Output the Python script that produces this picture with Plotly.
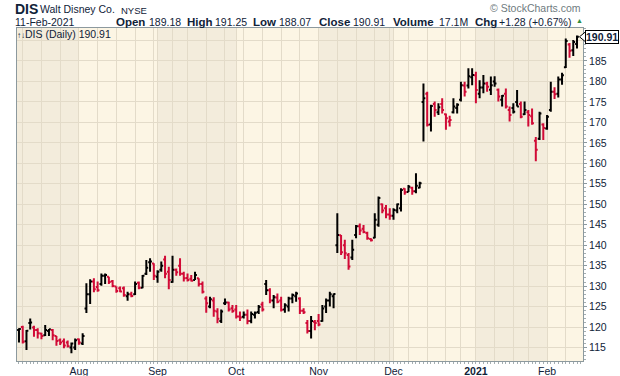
import pandas as pd
import plotly.graph_objects as go

# ---------------- data (DIS daily, 10-Jul-2020 .. 11-Feb-2021) ----------------
holidays = ["2020-09-07", "2020-11-26", "2020-12-25", "2021-01-01", "2021-01-18"]
dates = [d for d in pd.bdate_range("2020-07-10", "2021-02-11")
         if d.strftime("%Y-%m-%d") not in holidays]

opens = [119.3, 120.0, 116.5, 121.0, 119.9, 119.3, 118.4, 118.0, 119.0, 119.3,
         117.8, 116.8, 116.5, 116.2, 115.0, 115.0, 117.0, 116.0, 124.5, 128.0,
         131.1, 129.8, 130.5, 132.5, 132.3, 131.2, 129.9, 129.5, 129.5, 127.5,
         128.0, 128.0, 130.8, 129.6, 133.0, 135.8, 135.5, 132.3, 134.0, 136.5,
         133.5, 131.0, 134.0, 135.0, 133.0, 132.0, 131.8, 131.5, 131.9, 130.5,
         127.0, 125.0, 126.5, 123.8, 121.5, 125.8, 126.0, 124.6, 124.3, 122.6,
         122.5, 123.0, 121.5, 123.0, 123.7, 125.5, 130.5, 129.0, 126.5, 127.2,
         126.5, 124.3, 125.0, 127.0, 127.5, 127.0, 124.0, 121.0, 119.0, 121.3,
         121.5, 121.5, 125.0, 126.5, 127.5, 140.0, 142.4, 140.0, 137.6, 137.0,
         142.5, 144.6, 144.0, 143.0, 141.5, 141.8, 145.0, 150.0, 149.0, 147.5,
         147.2, 148.5, 149.0, 153.8, 153.0, 154.0, 153.2, 154.0, 175.0, 177.0,
         169.5, 174.5, 172.5, 174.5, 172.0, 170.2, 172.5, 173.5, 175.5, 179.0,
         179.0, 181.0, 181.5, 177.0, 178.5, 179.5, 178.0, 180.0, 178.0, 175.5,
         177.0, 173.0, 173.5, 175.0, 174.5, 172.0, 172.5, 171.5, 165.5, 166.0,
         169.5, 168.5, 173.0, 177.5, 177.0, 180.5, 183.5, 189.0, 187.6, 189.18]
highs = [119.7, 120.3, 119.3, 122.1, 120.3, 119.7, 118.6, 120.5, 119.5, 119.5,
         117.8, 117.2, 117.2, 116.7, 116.2, 117.2, 117.2, 118.5, 130.7, 131.7,
         131.9, 131.1, 133.1, 133.1, 132.3, 131.5, 129.9, 129.9, 129.9, 128.6,
         128.6, 131.1, 131.1, 132.7, 136.4, 136.8, 135.6, 133.9, 136.0, 137.4,
         134.7, 137.4, 134.3, 136.8, 133.5, 133.1, 132.7, 133.5, 131.9, 131.1,
         127.5, 127.4, 127.3, 124.6, 124.3, 127.0, 126.2, 125.4, 125.4, 123.8,
         123.8, 124.3, 123.8, 123.8, 125.4, 126.2, 131.5, 129.5, 127.8, 128.2,
         127.4, 125.8, 127.4, 128.2, 128.6, 127.3, 124.6, 121.7, 122.7, 121.7,
         123.2, 125.4, 127.0, 128.6, 128.2, 147.8, 142.5, 141.3, 138.1, 141.3,
         144.9, 145.3, 144.9, 143.3, 141.7, 147.8, 151.9, 150.2, 149.8, 149.0,
         149.0, 150.2, 153.9, 153.9, 154.7, 154.3, 157.6, 155.5, 179.5, 177.5,
         174.3, 175.1, 174.7, 175.9, 172.2, 171.6, 175.9, 174.7, 179.9, 179.9,
         183.2, 183.2, 182.4, 180.3, 181.6, 179.9, 181.2, 181.3, 178.3, 176.7,
         178.3, 173.9, 174.7, 177.9, 175.1, 175.1, 173.0, 173.4, 166.4, 172.6,
         169.8, 171.8, 179.9, 178.6, 181.2, 182.1, 190.5, 189.4, 190.1, 191.25]
lows = [116.2, 116.0, 114.4, 119.4, 117.6, 117.2, 117.0, 117.8, 117.8, 116.8,
        115.4, 115.6, 114.8, 115.0, 113.6, 114.4, 115.7, 115.6, 123.4, 125.6,
        128.5, 128.6, 130.1, 130.5, 130.5, 129.7, 128.4, 128.5, 127.4, 126.4,
        127.3, 127.8, 129.2, 129.5, 132.7, 133.5, 131.5, 130.8, 133.5, 131.9,
        129.2, 130.8, 132.5, 132.5, 131.1, 131.1, 131.1, 131.5, 129.9, 128.2,
        123.5, 124.6, 122.5, 120.9, 121.0, 125.4, 123.8, 123.5, 122.1, 121.5,
        122.1, 120.7, 120.9, 122.1, 123.2, 123.8, 127.8, 125.8, 124.6, 125.8,
        123.8, 123.5, 123.8, 125.8, 126.2, 123.2, 123.2, 118.4, 117.2, 119.2,
        120.2, 121.3, 123.4, 125.0, 124.6, 138.1, 137.6, 136.6, 134.0, 136.4,
        141.7, 142.5, 142.9, 141.3, 140.9, 141.7, 144.5, 147.8, 146.6, 146.2,
        146.2, 147.8, 148.2, 152.3, 153.0, 152.3, 152.7, 153.9, 165.3, 169.0,
        167.8, 171.4, 171.8, 172.2, 168.2, 169.0, 172.2, 172.2, 175.1, 176.3,
        178.3, 179.1, 174.7, 175.9, 177.1, 177.5, 176.7, 178.7, 175.1, 173.9,
        173.4, 170.2, 172.2, 173.9, 171.0, 171.8, 169.0, 169.4, 160.5, 165.7,
        165.7, 168.2, 172.6, 175.7, 176.1, 179.2, 183.3, 185.8, 186.2, 188.07]
closes = [119.5, 116.4, 119.1, 121.1, 119.3, 118.5, 117.8, 119.3, 119.45, 118.0,
          116.6, 116.2, 115.5, 115.3, 116.0, 116.8, 116.2, 117.8, 128.0, 131.1,
          129.2, 129.0, 132.5, 132.7, 131.0, 130.0, 128.8, 128.7, 127.8, 128.0,
          127.6, 130.5, 129.6, 132.5, 134.5, 136.0, 132.5, 133.5, 135.0, 133.0,
          131.5, 134.0, 133.4, 133.0, 131.9, 131.5, 131.3, 132.7, 130.5, 128.6,
          125.8, 126.8, 124.0, 122.0, 123.8, 126.0, 124.3, 123.9, 122.6, 122.3,
          123.0, 121.5, 123.2, 123.5, 124.9, 124.3, 129.0, 126.5, 127.3, 126.2,
          124.2, 125.3, 127.0, 127.8, 128.2, 124.0, 123.6, 119.0, 121.5, 121.0,
          120.6, 124.5, 126.5, 128.0, 128.1, 142.5, 138.3, 138.0, 134.8, 138.9,
          144.6, 143.6, 143.2, 141.7, 141.2, 146.2, 151.5, 148.5, 147.5, 147.2,
          148.6, 150.0, 153.5, 152.9, 154.3, 153.2, 154.5, 155.1, 175.9, 169.4,
          174.0, 173.0, 173.7, 173.0, 171.0, 170.6, 173.9, 174.3, 179.1, 177.5,
          181.3, 181.6, 177.9, 178.5, 179.5, 178.7, 179.1, 179.5, 176.3, 176.5,
          173.9, 171.8, 172.6, 173.9, 171.4, 173.0, 171.8, 169.8, 163.3, 172.2,
          168.6, 171.4, 177.5, 176.9, 180.5, 181.5, 189.9, 187.5, 189.63, 190.91]

month_names = ["Aug", "Sep", "Oct", "Nov", "Dec", "<b>2021</b>", "Feb"]
y_ticks = [115, 120, 125, 130, 135, 140, 145, 150, 155, 160, 165, 170, 175, 180, 185, 190]
y_labels = ["115", "120", "125", "130", "135", "140", "145", "150", "155", "160",
            "165", "170", "175", "180", "185", ""]   # 190 sits under the price tag

# ---------------- derived ----------------
n = len(dates)
xs = list(range(n))
up = [i for i in xs if i == 0 or closes[i] >= closes[i - 1]]
dn = [i for i in xs if i not in up]

month_idx = [i for i in range(1, n) if dates[i].month != dates[i - 1].month]
week_idx = [i for i in range(1, n)
            if dates[i].isocalendar()[1] != dates[i - 1].isocalendar()[1]]
tickvals = sorted(set(month_idx) | set(week_idx))
ticktext = [month_names[month_idx.index(v)] if v in month_idx else "" for v in tickvals]

BLACK = "#000000"
RED = "#D10A36"
NAVY = "#102238"
FONT = "Liberation Sans, Arial, sans-serif"

fig = go.Figure()
for idx, col in ((up, BLACK), (dn, RED)):
    fig.add_trace(go.Ohlc(
        x=[xs[i] for i in idx],
        open=[opens[i] for i in idx], high=[highs[i] for i in idx],
        low=[lows[i] for i in idx], close=[closes[i] for i in idx],
        increasing=dict(line=dict(color=col, width=2)),
        decreasing=dict(line=dict(color=col, width=2)),
        tickwidth=0.5, hoverinfo="skip", showlegend=False))

Y0, Y1 = 111.7, 193.06
X0, X1 = -0.53, 150.6

# alternating month background bands
bounds = [-1] + month_idx + [n + 1]
shapes = []
for k in range(len(bounds) - 1):
    if k % 2 == 0:
        shapes.append(dict(type="rect", xref="x", yref="paper", layer="below",
                           x0=bounds[k], x1=bounds[k + 1], y0=0, y1=1,
                           fillcolor="#F3ECDC", line=dict(width=0)))

L, R, T, B = 17, 583, 28, 361
W, H = 620, 376


def pxx(p):
    return (p - L) / (R - L)


def pxy(p):
    return (B - p) / (B - T)


ann = []


def txt(x, y, s, size=11, color=NAVY, bold=False, anchor="left"):
    ann.append(dict(xref="paper", yref="paper", x=pxx(x), y=pxy(y),
                    xanchor=anchor, yanchor="middle", showarrow=False,
                    borderpad=0,
                    text=("<b>%s</b>" % s) if bold else s,
                    font=dict(family=FONT, size=size, color=color)))


txt(14, 9.5, "DIS", size=14, bold=True)
txt(39, 9.5, "Walt Disney Co.", size=10.5)
txt(120, 10, "NYSE", size=9.5)
txt(14, 22, "11-Feb-2021", size=10.5)
pairs = [(115, "Open", 148, "189.18"), (186, "High", 214, "191.25"),
         (252, "Low", 278, "188.07"), (318, "Close", 352, "190.91"),
         (392, "Volume", 438, "17.1M"), (474, "Chg", 498, "+1.28 (+0.67%)")]
for lx, lab, vx, val in pairs:
    txt(lx, 22, lab, size=11.5, bold=True)
    txt(vx, 22, val, size=10.5)
txt(575, 21, "▲", size=7, color="#2E8B3E")
txt(582, 8.5, "© StockCharts.com", size=10.5, color="#6F7B80", anchor="right")
txt(16, 34, "<span style='font-size:8px'>↑↓</span>DIS (Daily) 190.91", size=10.5)

# last price tag
ann.append(dict(xref="paper", yref="y", x=pxx(585), y=closes[-1],
                xanchor="left", yanchor="middle", showarrow=False,
                text="<b>%.2f</b>" % closes[-1], bgcolor="#FFFFFF",
                bordercolor="#000000", borderwidth=1, borderpad=0,
                font=dict(family=FONT, size=10.5, color=NAVY)))
dy = 5.0 * (Y1 - Y0) / (B - T)
shapes.append(dict(type="path", xref="paper", yref="y",
                   path="M %f,%f L %f,%f L %f,%f Z" % (
                       pxx(579.5), closes[-1], pxx(585.5), closes[-1] + dy,
                       pxx(585.5), closes[-1] - dy),
                   fillcolor="#FFFFFF", line=dict(color="#000000", width=1)))

fig.update_layout(
    width=W, height=H,
    margin=dict(l=L, r=W - R, t=T, b=H - B, pad=0),
    paper_bgcolor="#FFFFFF", plot_bgcolor="#FCF5E4",
    shapes=shapes, annotations=ann,
    xaxis=dict(range=[X0, X1], tickmode="array", tickvals=tickvals,
               ticktext=ticktext, showgrid=True, gridcolor="#E3DBC9", gridwidth=1,
               zeroline=False, showline=True, linecolor="#8C999E", linewidth=1,
               mirror=True, ticks="", rangeslider=dict(visible=False),
               automargin=False,
               tickfont=dict(family=FONT, size=10.5, color=NAVY),
               minor=dict(tickmode="linear", tick0=0, dtick=1, ticks="outside",
                          ticklen=2, tickcolor="#A4AEB1", showgrid=False)),
    yaxis=dict(side="right", range=[Y0, Y1], tickmode="array",
               tickvals=y_ticks, ticktext=y_labels, showgrid=True,
               gridcolor="#E3DBC9",
               zeroline=False, showline=True, linecolor="#8C999E", mirror=True,
               ticks="outside", ticklen=3, tickcolor="#8C999E", automargin=False,
               tickfont=dict(family=FONT, size=10.5, color=NAVY),
               minor=dict(tickmode="linear", tick0=0, dtick=1, ticks="outside",
                          ticklen=2, tickcolor="#A4AEB1", showgrid=False)),
    font=dict(family=FONT, color=NAVY),
)

# remove the browser's default 8px page margin so the figure fills the window
fig.write_html("out.html",
               config={"displayModeBar": False, "staticPlot": True},
               post_script="document.body.style.margin='0';"
                           "document.body.style.overflow='hidden';")
